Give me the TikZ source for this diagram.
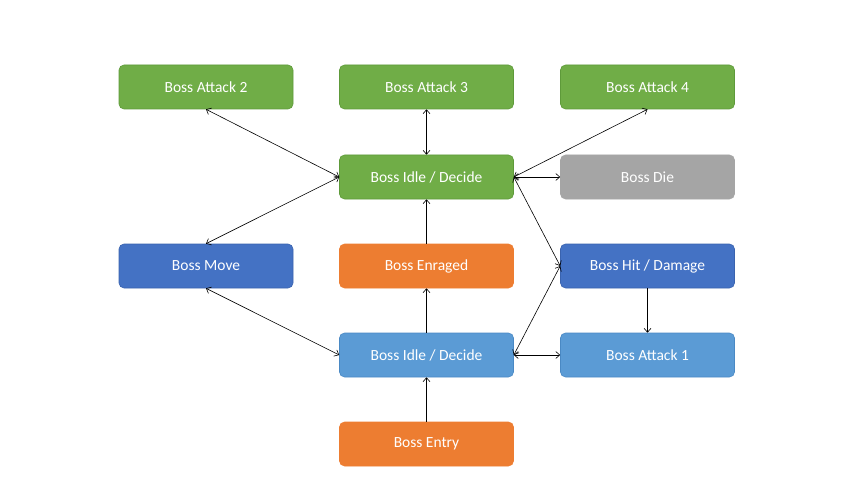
\documentclass[tikz,border=0pt]{standalone}
\usepackage{fontspec}
\setmainfont{Carlito}
\usetikzlibrary{arrows.meta}
\definecolor{cgreen}{HTML}{70AD47}
\definecolor{cgreenb}{HTML}{5E9A3A}
\definecolor{clblue}{HTML}{5B9BD5}
\definecolor{clblueb}{HTML}{4A89C4}
\definecolor{cdblue}{HTML}{4472C4}
\definecolor{cdblueb}{HTML}{3A63AE}
\definecolor{corange}{HTML}{ED7D31}
\definecolor{cgray}{HTML}{A5A5A5}
\tikzset{
  box/.style={rectangle, rounded corners=5pt, minimum width=174pt, minimum height=44pt,
    text=white, font=\fontsize{15.5}{18}\selectfont, inner sep=0pt, line width=0.6pt},
  gbox/.style={box, fill=cgreen, draw=cgreenb},
  lbbox/.style={box, fill=clblue, draw=clblueb},
  dbbox/.style={box, fill=cdblue, draw=cdblueb},
  obox/.style={box, fill=corange, draw=corange},
  grbox/.style={box, fill=cgray, draw=cgray},
  conn/.style={draw=black, line width=0.6pt, arrows={Straight Barb[length=4pt,width=7pt]-Straight Barb[length=4pt,width=7pt]}},
  oneway/.style={draw=black, line width=0.6pt, -{Straight Barb[length=4pt,width=7pt]}}
}
\begin{document}
\begin{tikzpicture}[x=1pt,y=1pt]
\useasboundingbox (0,0) rectangle (853,480);
\node[gbox] (a2) at (206,393) {Boss Attack 2};
\node[gbox] (a3) at (426.5,393) {Boss Attack 3};
\node[gbox] (a4) at (647.5,393) {Boss Attack 4};
\node[gbox] (idle1) at (426.5,303) {Boss Idle / Decide};
\node[grbox] (die) at (647.5,303) {Boss Die};
\node[dbbox] (move) at (206,214) {Boss Move};
\node[obox] (enr) at (426.5,214) {Boss Enraged};
\node[dbbox] (hit) at (647.5,214) {Boss Hit / Damage};
\node[lbbox] (idle2) at (426.5,125) {Boss Idle / Decide};
\node[lbbox] (a1) at (647.5,125) {Boss Attack 1};
\node[obox] (entry) at (426.5,36) {Boss Entry};
\draw[conn] (a2.south) -- (idle1.west);
\draw[conn] (a3.south) -- (idle1.north);
\draw[conn] (a4.south) -- (idle1.east);
\draw[conn] (idle1.east) -- (die.west);
\draw[conn] (idle1.east) -- (hit.west);
\draw[conn] (idle1.west) -- (move.north);
\draw[oneway] (enr.north) -- (idle1.south);
\draw[oneway] (idle2.north) -- (enr.south);
\draw[conn] (move.south) -- (idle2.west);
\draw[conn] (idle2.east) -- (hit.west);
\draw[conn] (idle2.east) -- (a1.west);
\draw[oneway] (hit.south) -- (a1.north);
\draw[oneway] (entry.north) -- (idle2.south);
\end{tikzpicture}
\end{document}
